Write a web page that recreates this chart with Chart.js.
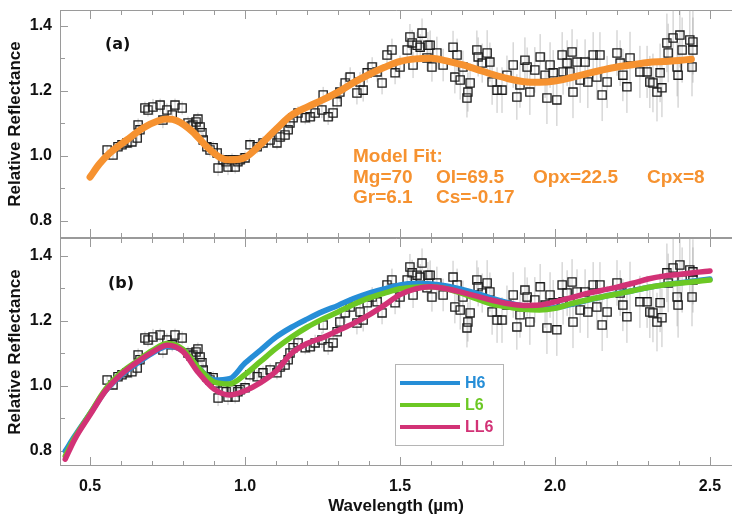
<!DOCTYPE html>
<html>
<head>
<meta charset="utf-8">
<script src="https://cdn.jsdelivr.net/npm/chart.js@4.4.1/dist/chart.umd.min.js"></script>
<style>
  body { margin: 0; background: #fff; width: 732px; height: 514px; position: relative; overflow: hidden; }
  #chart-top { position: absolute; left: 0; top: 0; }
  #chart-bottom { position: absolute; left: 0; top: 238px; }
</style>
</head>
<body>
<canvas id="chart-top" width="732" height="239" style="width:732px;height:239px"></canvas>
<canvas id="chart-bottom" width="732" height="276" style="width:732px;height:276px"></canvas>
<script>
// observed spectrum (wavelength in µm, relative reflectance, 1-sigma error)
const obsWave = [0.555, 0.574, 0.590, 0.603, 0.619, 0.635, 0.652, 0.655, 0.661, 0.677, 0.687, 0.703, 0.726, 0.735, 0.748, 0.765, 0.774, 0.797,
    0.816, 0.826, 0.832, 0.842, 0.848, 0.855, 0.861, 0.865, 0.877, 0.887, 0.897, 0.910, 0.913, 0.929, 0.939, 0.945, 0.958, 0.968, 0.977, 0.984,
    1.000, 1.016, 1.039, 1.058, 1.081, 1.103, 1.113, 1.129, 1.139, 1.145, 1.155, 1.171, 1.194, 1.210, 1.226, 1.248, 1.252, 1.268, 1.284, 1.297,
    1.306, 1.323, 1.339, 1.361, 1.371, 1.381, 1.394, 1.410, 1.426, 1.442, 1.458, 1.474, 1.484, 1.500, 1.523, 1.532, 1.539, 1.542, 1.555, 1.565,
    1.571, 1.587, 1.590, 1.597, 1.603, 1.619, 1.639, 1.671, 1.677, 1.684, 1.694, 1.703, 1.716, 1.719, 1.726, 1.748, 1.752, 1.765, 1.781, 1.790,
    1.797, 1.813, 1.829, 1.845, 1.865, 1.877, 1.887, 1.903, 1.910, 1.919, 1.935, 1.952, 1.968, 1.974, 1.984, 1.994, 2.006, 2.023, 2.026, 2.039,
    2.048, 2.055, 2.058, 2.071, 2.081, 2.097, 2.106, 2.123, 2.135, 2.145, 2.152, 2.168, 2.200, 2.210, 2.219, 2.232, 2.242, 2.274, 2.297, 2.306,
    2.316, 2.329, 2.339, 2.345, 2.361, 2.365, 2.381, 2.394, 2.397, 2.403, 2.410, 2.435, 2.442, 2.445, 2.445];
const obsRefl = [1.018, 1.003, 1.028, 1.034, 1.040, 1.043, 1.055, 1.095, 1.080, 1.147, 1.141, 1.150, 1.156, 1.110, 1.141, 1.126, 1.156, 1.147,
    1.101, 1.092, 1.095, 1.104, 1.113, 1.089, 1.071, 1.049, 1.028, 1.018, 1.025, 1.009, 0.963, 0.988, 0.982, 0.966, 0.988, 0.966, 0.982, 0.988,
    0.994, 1.034, 1.028, 1.040, 1.049, 1.040, 1.058, 1.064, 1.080, 1.101, 1.117, 1.132, 1.117, 1.120, 1.132, 1.141, 1.187, 1.120, 1.132, 1.166,
    1.196, 1.224, 1.242, 1.193, 1.227, 1.202, 1.255, 1.273, 1.258, 1.224, 1.310, 1.325, 1.255, 1.273, 1.325, 1.365, 1.347, 1.279, 1.340, 1.334,
    1.377, 1.301, 1.340, 1.340, 1.273, 1.316, 1.279, 1.334, 1.242, 1.310, 1.233, 1.273, 1.178, 1.196, 1.224, 1.325, 1.304, 1.285, 1.316, 1.288,
    1.227, 1.202, 1.202, 1.248, 1.279, 1.181, 1.218, 1.294, 1.273, 1.196, 1.264, 1.304, 1.248, 1.178, 1.279, 1.255, 1.172, 1.310, 1.258, 1.285,
    1.258, 1.319, 1.196, 1.288, 1.233, 1.288, 1.227, 1.310, 1.242, 1.310, 1.187, 1.227, 1.316, 1.285, 1.248, 1.212, 1.301, 1.258, 1.258, 1.227,
    1.224, 1.196, 1.255, 1.209, 1.347, 1.316, 1.362, 1.273, 1.248, 1.371, 1.325, 1.356, 1.273, 1.350, 1.325];
const obsErr = [0.015, 0.015, 0.015, 0.015, 0.015, 0.02, 0.02, 0.02, 0.02, 0.02, 0.02, 0.025, 0.02, 0.025, 0.02, 0.02, 0.02, 0.02,
    0.02, 0.02, 0.02, 0.02, 0.02, 0.02, 0.02, 0.02, 0.02, 0.02, 0.02, 0.02, 0.025, 0.02, 0.02, 0.025, 0.02, 0.02, 0.02, 0.02,
    0.02, 0.02, 0.02, 0.02, 0.02, 0.02, 0.02, 0.02, 0.02, 0.02, 0.02, 0.02, 0.02, 0.02, 0.025, 0.025, 0.025, 0.025, 0.025, 0.025,
    0.03, 0.03, 0.03, 0.035, 0.03, 0.035, 0.03, 0.03, 0.03, 0.035, 0.03, 0.035, 0.035, 0.035, 0.04, 0.04, 0.04, 0.04, 0.04, 0.04,
    0.045, 0.04, 0.04, 0.045, 0.045, 0.05, 0.05, 0.05, 0.05, 0.05, 0.06, 0.05, 0.06, 0.06, 0.06, 0.06, 0.06, 0.06, 0.07, 0.06,
    0.07, 0.07, 0.07, 0.06, 0.07, 0.07, 0.07, 0.07, 0.06, 0.07, 0.07, 0.07, 0.07, 0.08, 0.07, 0.07, 0.08, 0.07, 0.07, 0.07,
    0.07, 0.07, 0.08, 0.07, 0.07, 0.07, 0.08, 0.07, 0.07, 0.07, 0.08, 0.08, 0.07, 0.07, 0.08, 0.08, 0.08, 0.08, 0.08, 0.08,
    0.09, 0.09, 0.09, 0.09, 0.09, 0.09, 0.1, 0.09, 0.1, 0.1, 0.1, 0.1, 0.09, 0.1, 0.1];

// panel (a): model fit
const fitWave = [0.50, 0.53, 0.565, 0.62, 0.67, 0.72, 0.75, 0.78, 0.83, 0.88, 0.92, 0.95, 1.00, 1.05, 1.10, 1.15, 1.20, 1.25, 1.30, 1.35,
    1.40, 1.45, 1.50, 1.55, 1.60, 1.65, 1.70, 1.75, 1.80, 1.85, 1.90, 1.95, 2.00, 2.05, 2.10, 2.15, 2.20, 2.25, 2.30, 2.35, 2.40, 2.44];
const fitRefl = [0.935, 0.975, 1.010, 1.050, 1.085, 1.108, 1.113, 1.108, 1.075, 1.025, 0.995, 0.988, 0.995, 1.035, 1.082, 1.125, 1.150, 1.172, 1.196, 1.225,
    1.250, 1.272, 1.290, 1.298, 1.300, 1.292, 1.280, 1.265, 1.250, 1.237, 1.228, 1.226, 1.230, 1.240, 1.252, 1.263, 1.273, 1.280, 1.287, 1.290, 1.293, 1.297];
const fitNotes = [['Model Fit:'], ['Mg=70', 'Ol=69.5', 'Opx=22.5', 'Cpx=8'], ['Gr=6.1', 'Cs=-0.17']];

// panel (b): meteorite class spectra
const classWave = [0.42, 0.45, 0.50, 0.55, 0.60, 0.65, 0.70, 0.75, 0.80, 0.85, 0.90, 0.95, 1.00, 1.05, 1.10, 1.15, 1.20, 1.25, 1.30, 1.35,
    1.40, 1.45, 1.50, 1.55, 1.60, 1.65, 1.70, 1.75, 1.80, 1.85, 1.90, 1.95, 2.00, 2.05, 2.10, 2.15, 2.20, 2.25, 2.30, 2.35, 2.40, 2.45, 2.50];
const h6Refl = [0.800, 0.845, 0.915, 0.985, 1.032, 1.068, 1.100, 1.122, 1.108, 1.055, 1.018, 1.022, 1.070, 1.110, 1.150, 1.180, 1.205, 1.228, 1.247, 1.268,
    1.285, 1.298, 1.310, 1.314, 1.313, 1.307, 1.296, 1.283, 1.268, 1.255, 1.245, 1.238, 1.240, 1.250, 1.262, 1.273, 1.283, 1.292, 1.302, 1.310, 1.316, 1.322, 1.328];
const l6Refl = [0.785, 0.840, 0.915, 0.990, 1.040, 1.075, 1.108, 1.130, 1.112, 1.055, 1.012, 1.006, 1.035, 1.075, 1.115, 1.150, 1.180, 1.205, 1.227, 1.250,
    1.270, 1.285, 1.298, 1.303, 1.304, 1.298, 1.284, 1.266, 1.250, 1.242, 1.235, 1.233, 1.238, 1.252, 1.263, 1.273, 1.282, 1.292, 1.302, 1.310, 1.315, 1.320, 1.325];
const ll6Refl = [0.775, 0.835, 0.911, 0.985, 1.035, 1.072, 1.103, 1.125, 1.105, 1.040, 0.990, 0.972, 0.985, 1.010, 1.045, 1.100, 1.130, 1.148, 1.170, 1.192,
    1.218, 1.248, 1.280, 1.298, 1.304, 1.298, 1.287, 1.275, 1.262, 1.252, 1.247, 1.248, 1.258, 1.270, 1.283, 1.293, 1.303, 1.315, 1.328, 1.337, 1.342, 1.348, 1.353];
const classNames = ['H6', 'L6', 'LL6'];

const xTicks = [0.5, 1.0, 1.5, 2.0, 2.5];
const yTicks = [0.8, 1.0, 1.2, 1.4];

const X_MIN = 0.403, X_MAX = 2.571;
const Y_RANGE_TOP = [0.748, 1.448];
const Y_RANGE_BOTTOM = [0.754, 1.454];
const FIT_COLOR = 'rgb(246,146,48)';
const CLASS_COLORS = ['rgb(38,142,215)', 'rgb(108,200,36)', 'rgb(210,50,118)'];
const FRAME_COLOR = '#9a9a9a';

Chart.defaults.font.family = '"Liberation Sans", Arial, sans-serif';
Chart.defaults.color = '#111';

function toPoints(xs, ys) {
    return xs.map((x, i) => ({x: x, y: ys[i]}));
}

function errorBarPoints() {
    const pts = [];
    obsWave.forEach((w, i) => {
        pts.push({x: w, y: obsRefl[i] - obsErr[i]}, {x: w, y: obsRefl[i] + obsErr[i]}, {x: w, y: null});
    });
    return pts;
}

function obsDatasets(order) {
    return [{
        label: 'errors',
        data: errorBarPoints(),
        showLine: true,
        spanGaps: false,
        borderColor: 'rgba(165,165,165,0.65)',
        borderWidth: 1,
        pointRadius: 0,
        order: order + 1
    }, {
        label: 'observed',
        data: toPoints(obsWave, obsRefl),
        showLine: false,
        pointStyle: 'rect',
        pointRadius: 5.8,
        borderColor: '#1c1c1c',
        backgroundColor: 'rgba(255,255,255,0.1)',
        borderWidth: 1.3,
        order: order
    }];
}

function curve(label, xs, ys, color, width, order) {
    return {
        label: label,
        data: toPoints(xs, ys),
        showLine: true,
        borderColor: color,
        backgroundColor: color,
        borderWidth: width,
        pointRadius: 0,
        cubicInterpolationMode: 'monotone',
        borderCapStyle: 'round',
        order: order
    };
}

// no automatic label padding: the plot box must sit exactly where the original has it
function noPadding(s) {
    s.paddingTop = 0;
    s.paddingBottom = 0;
    s.paddingLeft = 0;
    s.paddingRight = 0;
}

// frame with inward ticks, the way the original plot draws them
const frameTicks = {
    id: 'frameTicks',
    beforeDatasetsDraw(chart) {
        const {ctx, chartArea: a, scales: {x, y}} = chart;
        ctx.save();
        ctx.strokeStyle = FRAME_COLOR;
        ctx.lineWidth = 1;
        ctx.beginPath();
        ctx.moveTo(a.left + 0.5, a.top + 0.5); ctx.lineTo(a.right, a.top + 0.5);
        ctx.moveTo(a.left + 0.5, a.top); ctx.lineTo(a.left + 0.5, a.bottom);
        ctx.moveTo(a.left, a.bottom - 0.5); ctx.lineTo(a.right, a.bottom - 0.5);
        for (let k = 5; k <= 25; k++) {
            const v = k / 10;
            const len = (k % 5 === 0) ? 9 : 5;
            const px = Math.round(x.getPixelForValue(v)) + 0.5;
            ctx.moveTo(px, a.bottom); ctx.lineTo(px, a.bottom - len);
            ctx.moveTo(px, a.top); ctx.lineTo(px, a.top + len);
        }
        for (let k = 8; k <= 14; k++) {
            const v = k / 10;
            const len = (k % 2 === 0) ? 8 : 5;
            const py = Math.round(y.getPixelForValue(v)) + 0.5;
            ctx.moveTo(a.left, py); ctx.lineTo(a.left + len, py);
        }
        ctx.stroke();
        ctx.restore();
    }
};

const panelText = {
    id: 'panelText',
    afterDraw(chart, args, opts) {
        const ctx = chart.ctx;
        ctx.save();
        ctx.textBaseline = 'middle';
        ctx.fillStyle = '#111';
        ctx.font = '600 16px "DejaVu Sans"';
        ctx.fillText(opts.tag, opts.tagX, opts.tagY);
        if (opts.notes) {
            const cols = [353, 436, 533, 647];
            const rows = [157, 178, 198];
            ctx.fillStyle = FIT_COLOR;
            ctx.font = 'bold 19px "Liberation Sans", Arial, sans-serif';
            opts.notes.forEach((row, r) => {
                row.forEach((txt, c) => ctx.fillText(txt, cols[c], rows[r]));
            });
        }
        if (opts.legend) {
            const box = {left: 395, top: 126, right: 503, bottom: 207};
            ctx.fillStyle = '#fff';
            ctx.fillRect(box.left, box.top, box.right - box.left, box.bottom - box.top);
            ctx.strokeStyle = '#b5b5b5';
            ctx.lineWidth = 1;
            ctx.strokeRect(box.left + 0.5, box.top + 0.5, box.right - box.left, box.bottom - box.top);
            ctx.font = 'bold 16px "Liberation Sans", Arial, sans-serif';
            classNames.forEach((name, i) => {
                const yy = 145 + i * 22;
                ctx.strokeStyle = CLASS_COLORS[i];
                ctx.lineWidth = 4;
                ctx.beginPath();
                ctx.moveTo(400, yy); ctx.lineTo(460, yy);
                ctx.stroke();
                ctx.fillStyle = CLASS_COLORS[i];
                ctx.fillText(name, 465, yy + 1);
            });
        }
        ctx.restore();
    }
};

function panelOptions(isBottom, yRange, textOpts) {
    return {
        responsive: false,
        animation: false,
        layout: {
            autoPadding: false,
            padding: isBottom ? {top: 0, bottom: 0, left: 0, right: 0} : {top: 10, bottom: 1, left: 0, right: 0}
        },
        plugins: {
            legend: {display: false},
            tooltip: {enabled: false},
            panelText: textOpts
        },
        scales: {
            x: {
                type: 'linear',
                min: X_MIN,
                max: X_MAX,
                display: isBottom,
                grid: {display: false, drawTicks: false},
                border: {display: false},
                afterBuildTicks: s => { s.ticks = xTicks.map(v => ({value: v})); },
                afterFit: s => { s.height = isBottom ? 48 : 0; noPadding(s); },
                ticks: {
                    autoSkip: false,
                    maxRotation: 0,
                    padding: 11,
                    color: '#111',
                    font: {size: 16, weight: 'bold'},
                    callback: v => Number(v).toFixed(1)
                },
                title: {
                    display: true,
                    text: 'Wavelength (µm)',
                    color: '#111',
                    font: {size: 17, weight: 'bold', lineHeight: 0.85},
                    padding: {top: 0, bottom: 0}
                }
            },
            y: {
                type: 'linear',
                min: yRange[0],
                max: yRange[1],
                grid: {display: false, drawTicks: false},
                border: {display: false},
                afterBuildTicks: s => { s.ticks = yTicks.map(v => ({value: v})); },
                afterFit: s => { s.width = 60; noPadding(s); },
                ticks: {
                    autoSkip: false,
                    padding: 8,
                    color: '#111',
                    font: {size: 16, weight: 'bold'},
                    callback: v => Number(v).toFixed(1)
                },
                title: {
                    display: true,
                    text: 'Relative Reflectance',
                    color: '#111',
                    font: {size: 17, weight: 'bold'},
                    padding: {top: 5, bottom: 0}
                }
            }
        }
    };
}

const topChart = new Chart(document.getElementById('chart-top'), {
    type: 'scatter',
    data: {
        datasets: [curve('Model Fit', fitWave, fitRefl, FIT_COLOR, 7, 0)].concat(obsDatasets(1))
    },
    options: panelOptions(false, Y_RANGE_TOP, {tag: '(a)', tagX: 105, tagY: 45, notes: fitNotes}),
    plugins: [frameTicks, panelText]
});

const bottomChart = new Chart(document.getElementById('chart-bottom'), {
    type: 'scatter',
    data: {
        datasets: [
            curve(classNames[2], classWave, ll6Refl, CLASS_COLORS[2], 5.5, 0),
            curve(classNames[1], classWave, l6Refl, CLASS_COLORS[1], 5.5, 1),
            curve(classNames[0], classWave, h6Refl, CLASS_COLORS[0], 5.5, 2)
        ].concat(obsDatasets(3))
    },
    options: panelOptions(true, Y_RANGE_BOTTOM, {tag: '(b)', tagX: 108, tagY: 46, legend: true}),
    plugins: [frameTicks, panelText]
});
</script>
</body>
</html>
